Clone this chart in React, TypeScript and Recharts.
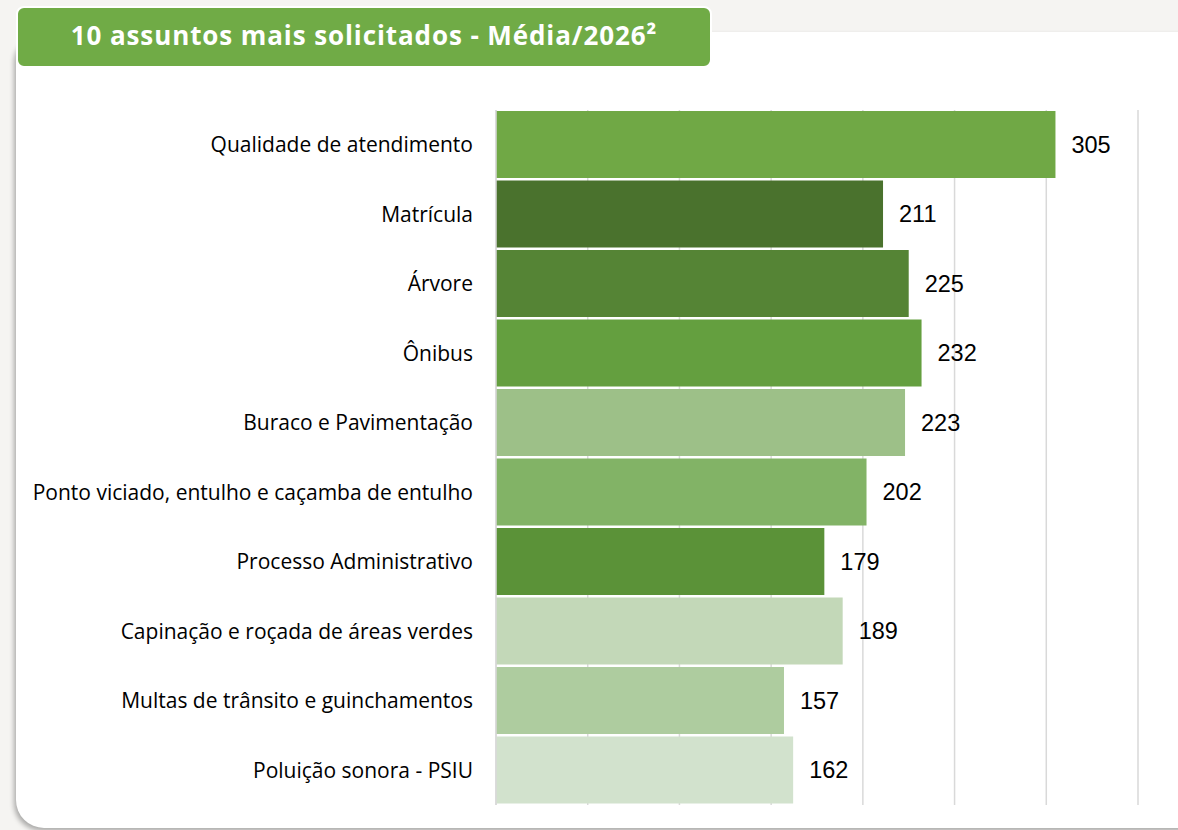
import React from "react";
import { Bar, BarChart, CartesianGrid, Cell, LabelList, XAxis, YAxis } from "recharts";

const assuntos = [
  "Qualidade de atendimento",
  "Matrícula",
  "Árvore",
  "Ônibus",
  "Buraco e Pavimentação",
  "Ponto viciado, entulho e caçamba de entulho",
  "Processo Administrativo",
  "Capinação e roçada de áreas verdes",
  "Multas de trânsito e guinchamentos",
  "Poluição sonora - PSIU",
];

const media = [305, 211, 225, 232, 223, 202, 179, 189, 157, 162];

const cores = [
  "#70a845",
  "#4a722d",
  "#558435",
  "#649f3f",
  "#9dc088",
  "#82b366",
  "#5b9238",
  "#c3d8b8",
  "#aecc9f",
  "#d2e2cd",
];

const ticks = [0, 50, 100, 150, 200, 250, 300, 350];

const data = assuntos.map((nome, i) => ({ nome, total: media[i] }));

export default function App() {
  return (
    <div
      style={{
        position: "absolute",
        left: 0,
        top: 0,
        width: 1178,
        height: 830,
        background: "#f5f4f2",
        overflow: "hidden",
      }}
    >
      <div
        style={{
          position: "absolute",
          left: 16,
          top: 32,
          width: 1200,
          height: 796,
          background: "#ffffff",
          borderRadius: 28,
          boxShadow: "-2px 3px 5px rgba(0,0,0,0.3)",
        }}
      />
      <div
        style={{
          position: "absolute",
          left: 16,
          top: 6,
          width: 692,
          height: 53,
          background: "#70ab46",
          border: "2px solid #ffffff",
          borderRadius: 8,
          color: "#ffffff",
          fontFamily: "'Open Sans', sans-serif",
          fontWeight: 700,
          fontSize: 26,
          letterSpacing: 0.9,
          display: "flex",
          alignItems: "center",
          justifyContent: "center",
          paddingBottom: 5,
          boxSizing: "content-box",
          whiteSpace: "nowrap",
        }}
      >
        10 assuntos mais solicitados - Média/2026²
      </div>
      <div style={{ position: "absolute", left: 0, top: 0 }}>
        <BarChart
          width={1178}
          height={830}
          data={data}
          layout="vertical"
          margin={{ top: 110, right: 40, bottom: 25, left: 0 }}
        >
          <CartesianGrid horizontal={false} stroke="#d9d9d9" strokeWidth={1.5} />
          <XAxis type="number" domain={[0, 350]} ticks={ticks} hide />
          <YAxis
            type="category"
            dataKey="nome"
            width={496}
            axisLine={{ stroke: "#d9d9d9", strokeWidth: 1.5 }}
            tickLine={false}
            tickSize={0}
            tickMargin={23}
            tick={{ fill: "#000000", fontSize: 21, fontFamily: "'Open Sans', sans-serif" }}
            interval={0}
          />
          <Bar dataKey="total" barSize={67} isAnimationActive={false}>
            {data.map((d, i) => (
              <Cell key={d.nome} fill={cores[i]} />
            ))}
            <LabelList
              dataKey="total"
              position="right"
              offset={16}
              fill="#000000"
              fontSize={23.5}
              fontFamily="'Liberation Sans', Arial, sans-serif"
            />
          </Bar>
        </BarChart>
      </div>
    </div>
  );
}
